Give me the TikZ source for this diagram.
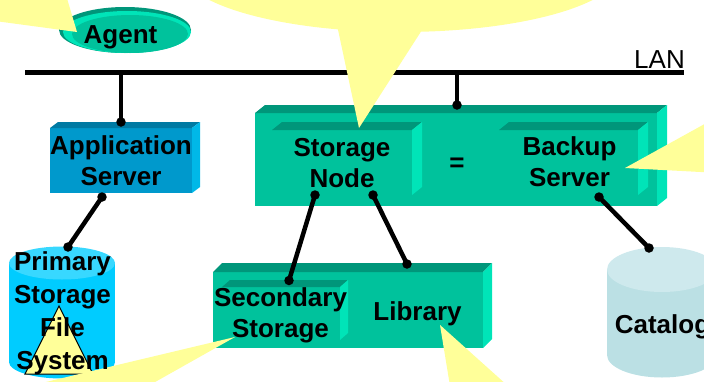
\documentclass[tikz,border=0pt]{standalone}
\usepackage{fontspec}
\setmainfont{Liberation Sans}
\usetikzlibrary{calc}

\definecolor{gfront}{RGB}{0,194,156}
\definecolor{gtop}{RGB}{0,150,122}
\definecolor{gside}{RGB}{0,228,184}
\definecolor{bfront}{RGB}{0,153,204}
\definecolor{btop}{RGB}{0,122,163}
\definecolor{bside}{RGB}{0,184,232}
\definecolor{cyanbody}{RGB}{0,204,255}
\definecolor{cyantop}{RGB}{56,216,255}
\definecolor{catbody}{RGB}{187,224,228}
\definecolor{cattop}{RGB}{206,233,237}
\definecolor{calloutyellow}{RGB}{255,255,153}

\tikzset{
  box/.style={draw=none, inner sep=0pt, outer sep=0pt, rectangle},
  lbl/.style={font=\fontsize{26}{31}\selectfont\bfseries, align=center, inner sep=0pt},
  link/.style={line width=4.5pt},
  balloon/.style={fill=calloutyellow},
}
\newcommand\boxfaces[5]{%
  \fill[#4] (#1.north west) -- ++(#2,#3) -- ($(#1.north east)+(#2,#3)$) -- (#1.north east) -- cycle;
  \fill[#5] (#1.north east) -- ++(#2,#3) -- ($(#1.south east)+(#2,#3)$) -- (#1.south east) -- cycle;}
\newcommand\linkdot[1]{\fill (#1) circle[radius=4.75pt];}

\begin{document}
\begin{tikzpicture}[x=1pt,y=-1pt]
\useasboundingbox (0,0) rectangle (704,381);
\clip (0,0) rectangle (704,381);

% LAN
\coordinate (lanL) at (25,72);
\coordinate (lanR) at (684,72);
\draw[line width=5pt] (lanL) -- (lanR);

% Agent
\node[box, minimum width=132pt, minimum height=46pt] (agentshape) at (125,30) {};
\fill[gtop] (agentshape.center) ellipse[x radius=66pt, y radius=23pt];
\fill[gside] (127,32) ellipse[x radius=64pt, y radius=21pt];
\fill[gfront] (130,34) ellipse[x radius=58pt, y radius=19pt];

% Application server
\node[box, fill=bfront, minimum width=142pt, minimum height=65pt] (app) at (121,160.5) {};
\boxfaces{app}{8}{-6}{btop}{bside}

% Storage node / backup server
\node[box, fill=gfront, minimum width=402pt, minimum height=93pt] (big) at (456,159.5) {};
\boxfaces{big}{10}{-8}{gtop}{gside}
\node[box, fill=gfront, minimum width=140pt, minimum height=65pt] (sn) at (342,162.5) {};
\boxfaces{sn}{10}{-8}{gtop}{gside}
\node[box, fill=gfront, minimum width=139pt, minimum height=65pt] (bs) at (568.5,162.5) {};
\boxfaces{bs}{10}{-8}{gtop}{gside}

% Secondary storage / library
\node[box, fill=gfront, minimum width=270pt, minimum height=76pt] (lib) at (348,310) {};
\boxfaces{lib}{9}{-9}{gtop}{gside}
\node[box, fill=gfront, minimum width=118pt, minimum height=53pt] (sec) at (281,313.5) {};
\boxfaces{sec}{8}{-7}{gtop}{gside}

% Primary storage cylinder
\node[box, minimum width=106pt, minimum height=132pt] (prim) at (62,312.5) {};
\fill[cyanbody] (9,263) rectangle (115,362);
\fill[cyanbody] (62,362) ellipse[x radius=53pt, y radius=16.5pt];
\fill[cyantop] (62,263) ellipse[x radius=53pt, y radius=16.5pt];
\filldraw[fill=calloutyellow, draw=black, line width=1pt] (59,306) -- (93,374) -- (25,374) -- cycle;

% Catalog cylinder
\node[box, minimum width=110pt, minimum height=130pt] (cat) at (662,312) {};
\fill[catbody] (607,269.5) rectangle (717,355);
\fill[catbody] (662,355) ellipse[x radius=55pt, y radius=22.5pt];
\fill[cattop] (662,269.5) ellipse[x radius=55pt, y radius=22.5pt];

% Connectors
\coordinate (a1) at ($(app.north)+(0,-6)$);
\draw[link] (a1) -- (a1 |- lanL);
\linkdot{a1}
\coordinate (b1) at ($(big.north)+(1,-8)$);
\draw[link] (b1) -- (b1 |- lanL);
\linkdot{b1}
\coordinate (c1) at ($(app.south)+(-19,4)$);
\coordinate (c2) at ($(prim.north)+(6,0.5)$);
\draw[link] (c1) -- (c2);
\linkdot{c1}\linkdot{c2}
\coordinate (d1) at ($(sn.south)+(-27,0)$);
\coordinate (d2) at ($(sec.north)+(8,-6.5)$);
\draw[link] (d1) -- (d2);
\linkdot{d1}\linkdot{d2}
\coordinate (e1) at ($(sn.south)+(31,0)$);
\coordinate (e2) at ($(lib.north)+(59,-8)$);
\draw[link] (e1) -- (e2);
\linkdot{e1}\linkdot{e2}
\coordinate (f1) at ($(bs.south)+(30.5,2)$);
\coordinate (f2) at ($(cat.north)+(-13,1)$);
\draw[link] (f1) -- (f2);
\linkdot{f1}\linkdot{f2}

% Callouts
\fill[balloon] (77,32) -- (-5,21) -- (-5,-5) -- (66,-5) -- cycle;
\fill[balloon] (401,-31) ellipse[x radius=220pt, y radius=63pt];
\fill[balloon] (337,25) -- (359,128) -- (422,30) -- cycle;
\fill[balloon] (625,168) -- (710,121) -- (710,172.5) -- cycle;
\fill[balloon] (235,337) -- (148,386) -- (29,386) -- cycle;
\fill[balloon] (440,325) -- (450,386) -- (508,386) -- cycle;

% Labels
\node[lbl] (agent) at (120.5,37) {\strut Agent};
\node[lbl] (appT) at (121,164) {\strut Application\\\strut Server};
\node[lbl] (snT) at (342,166) {\strut Storage\\\strut Node};
\node[lbl] (eq) at (457,165.5) {\strut =};
\node[lbl] (bsT) at (569.5,165) {\strut Backup\\\strut Server};
\node[lbl] (secT) at (280.5,316) {\strut Secondary\\\strut Storage};
\node[lbl] (libT) at (417.5,314) {\strut Library};
\node[lbl, font=\fontsize{26}{32.7}\selectfont\bfseries] (primT) at (62.5,313.5) {\strut Primary\\\strut Storage\\\strut File\\\strut System};
\node[lbl] (catT) at (662.5,327) {\strut Catalog};
\node[font=\fontsize{26}{31}\selectfont, anchor=base east, inner sep=0pt] (lan) at (685,68) {LAN};
\end{tikzpicture}
\end{document}
